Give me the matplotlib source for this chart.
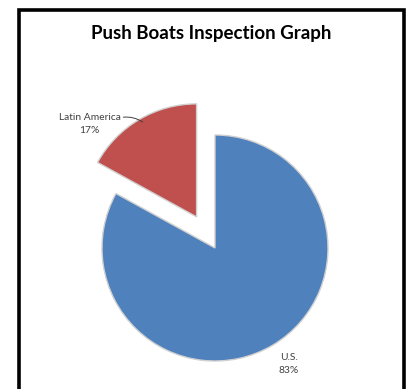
import matplotlib
matplotlib.use("Agg")
import matplotlib.pyplot as plt
from matplotlib.patches import Rectangle

categories = ["U.S.", "Latin America"]
values = [83, 17]
colors = ["#4F81BD", "#C0504D"]
explode = [0.0, 0.32]
title = "Push Boats Inspection Graph"

W, H = 409, 389
fig = plt.figure(figsize=(W / 100, H / 100), dpi=100)
fig.patch.set_facecolor("white")

cx, cy, r = 215, 248, 113
ax = fig.add_axes([(cx - r) / W, (H - cy - r) / H, 2 * r / W, 2 * r / H])
ax.set_xlim(-1, 1)
ax.set_ylim(-1, 1)
ax.set_aspect("equal")
ax.axis("off")

wedges, _ = ax.pie(values, colors=colors, explode=explode, startangle=90,
                   counterclock=False, radius=1,
                   wedgeprops=dict(edgecolor="#D0D0D0", linewidth=1.0))
for w in wedges:
    w.set_clip_on(False)
ax.set_xlim(-1, 1)
ax.set_ylim(-1, 1)

font = ["Lato", "DejaVu Sans"]
lab_fs = 7.4
# Latin America label with leader line
ax.annotate(f"{categories[1]}\n{values[1]}%", xy=(-0.64, 1.115), xytext=(-1.11, 1.10),
            ha="center", va="center", fontsize=lab_fs, family=font, color="#404040",
            annotation_clip=False, linespacing=1.55,
            arrowprops=dict(arrowstyle="-", color="#404040", lw=0.7,
                            shrinkA=0, shrinkB=0, relpos=(1.0, 0.78),
                            connectionstyle="arc3,rad=-0.2"))
ax.text(0.655, -1.03, f"{categories[0]}\n{values[0]}%", ha="center", va="center",
        fontsize=lab_fs, family=font, color="#404040", linespacing=1.55, clip_on=False)

fig.text(211 / W, 1 - 33 / H, title, ha="center", va="center", fontsize=13.5,
         fontweight="bold", family=font, color="black")

# chart frame
fig.patches.append(Rectangle((19 / W, -0.05), (404 - 19) / W, (H - 10) / H + 0.05,
                             transform=fig.transFigure, fill=False, edgecolor="black",
                             linewidth=2.6, zorder=10))

fig.savefig("out.png", dpi=100, facecolor="white")
